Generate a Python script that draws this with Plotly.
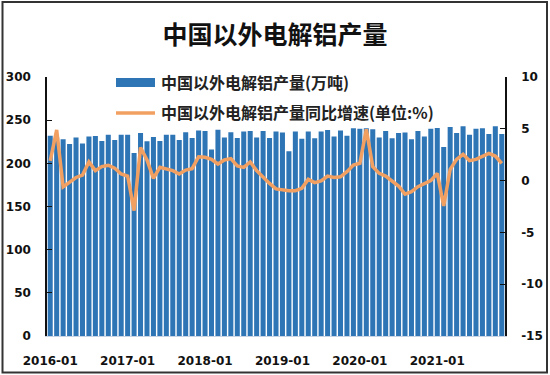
import plotly.graph_objects as go

months = [f"{y}-{m:02d}" for y in range(2016, 2022) for m in range(1, 13)][:71]

production = [
    232, 230, 228, 222.5, 230, 223, 231, 231.7, 226, 233, 227, 233,
    233, 212, 235, 225.6, 230.6, 226, 233, 233, 227, 236, 229.4, 238,
    237.5, 216, 239, 230, 236, 229.4, 237, 237.5, 230, 237.5, 229.4, 237,
    235.6, 214, 237, 228.6, 237, 229, 237, 238.7, 231, 238, 232, 240.6,
    240, 240.6, 239.5, 230, 237.5, 229, 235, 235.7, 228, 237.5, 231, 240,
    241, 219, 242, 235, 243, 233, 240, 240.6, 234, 243, 234,
]

yoy = [
    1.9, 4.9, -0.6, -0.1, 0.3, 0.54, 1.8, 0.96, 1.35, 1.48, 1.19, 0.64,
    0.44, -2.9, 3.2, 2.0, 0.22, 1.28, 1.09, 0.96, 0.64, 1.02, 1.15, 2.3,
    2.25, 2.05, 1.6, 1.99, 2.12, 1.41, 1.28, 1.8, 0.96, 0.3, -0.27, -0.8,
    -0.9, -0.97, -0.97, -0.75, 0.12, -0.2, -0.04, 0.44, 0.3, 0.37, 0.86, 1.5,
    1.67, 4.95, 1.35, 0.7, 0.44, 0.0, -0.52, -1.3, -1.07, -0.59, -0.33, 0.0,
    0.7, -2.45, 1.09, 2.05, 2.54, 1.92, 2.05, 2.37, 2.63, 2.37, 1.67,
]

tick_labels = ["2016-01", "2017-01", "2018-01", "2019-01", "2020-01", "2021-01"]
left_ticks = [0, 50, 100, 150, 200, 250, 300]
right_ticks = [-15, -10, -5, 0, 5, 10]

title_text = "中国以外电解铝产量"
bar_name = "中国以外电解铝产量(万吨)"
line_name = "中国以外电解铝产量同比增速(单位:%)"

BAR_COLOR = "#2E75B6"
LINE_COLOR = "#F2A062"
CJK = "Noto Sans CJK SC"
NUM = "DejaVu Sans"

W, H = 550, 375
L, R, T, B = 47, 505, 77, 336


def px(x):
    return (x - L) / (R - L)


def py(y):
    return (B - y) / (B - T)


fig = go.Figure()
fig.add_trace(go.Bar(x=months, y=production, name=bar_name,
                     marker=dict(color=BAR_COLOR, line=dict(width=0)),
                     yaxis="y"))
fig.add_trace(go.Scatter(x=months, y=yoy, name=line_name, mode="lines",
                         line=dict(color=LINE_COLOR, width=3.5),
                         yaxis="y2"))

tickfont = dict(family=NUM, size=12, color="#111111")

fig.update_layout(
    width=W, height=H,
    margin=dict(l=L, r=W - R, t=T, b=H - B, pad=0, autoexpand=False),
    paper_bgcolor="white", plot_bgcolor="white",
    showlegend=False,
    bargap=0.22,
    title=dict(text=f"<b>{title_text}</b>", x=0.5, xanchor="center",
               y=1 - 35 / H, yanchor="middle",
               font=dict(family=CJK, size=25, color="#111111")),
    xaxis=dict(type="category", tickmode="array", tickvals=tick_labels,
               ticktext=[f"<b>{t}</b>" for t in tick_labels],
               tickfont=tickfont, ticks="", showgrid=False, automargin=False,
               showline=True, linecolor="#C8D4E3", linewidth=1,
               ticklabelstandoff=14, range=[-0.5, len(months) - 0.5]),
    yaxis=dict(range=[0, 300], showgrid=False, zeroline=False, automargin=False,
               showline=True, linecolor="#111111", linewidth=1.5,
               ticks="inside", ticklen=5, tickcolor="#111111",
               tickfont=tickfont, ticklabelstandoff=12,
               tickvals=left_ticks,
               ticktext=[f"<b>{v}</b>" for v in left_ticks]),
    yaxis2=dict(range=[-15, 10], overlaying="y", side="right", automargin=False,
                showgrid=False, zeroline=False,
                showline=True, linecolor="#111111", linewidth=1.5,
                ticks="inside", ticklen=5, tickcolor="#111111",
                tickfont=tickfont, ticklabelstandoff=12,
                tickvals=right_ticks,
                ticktext=[f"<b>{v}</b>" for v in right_ticks]),
)

# manual legend
fig.add_shape(type="rect", xref="paper", yref="paper",
              x0=px(116), x1=px(155), y0=py(87), y1=py(78),
              fillcolor=BAR_COLOR, line=dict(width=0))
fig.add_shape(type="line", xref="paper", yref="paper",
              x0=px(116), x1=px(155), y0=py(113), y1=py(113),
              line=dict(color=LINE_COLOR, width=3.5))
fig.add_annotation(xref="paper", yref="paper", x=px(159), y=py(82.5),
                   xanchor="left", yanchor="middle", showarrow=False,
                   text=f"<b>{bar_name}</b>",
                   font=dict(family=CJK, size=16, color="#222222"))
fig.add_annotation(xref="paper", yref="paper", x=px(159), y=py(112.5),
                   xanchor="left", yanchor="middle", showarrow=False,
                   text=f"<b>{line_name}</b>",
                   font=dict(family=CJK, size=16, color="#222222"))

# outer frame
fig.add_shape(type="rect", xref="paper", yref="paper",
              x0=px(2.5), x1=px(547), y0=py(372.5), y1=py(2),
              line=dict(color="#333333", width=2), fillcolor="rgba(0,0,0,0)",
              layer="above")

fig.write_html("out.html", config={"displayModeBar": False},
               post_script="document.body.style.margin='0';document.body.style.padding='0';")
